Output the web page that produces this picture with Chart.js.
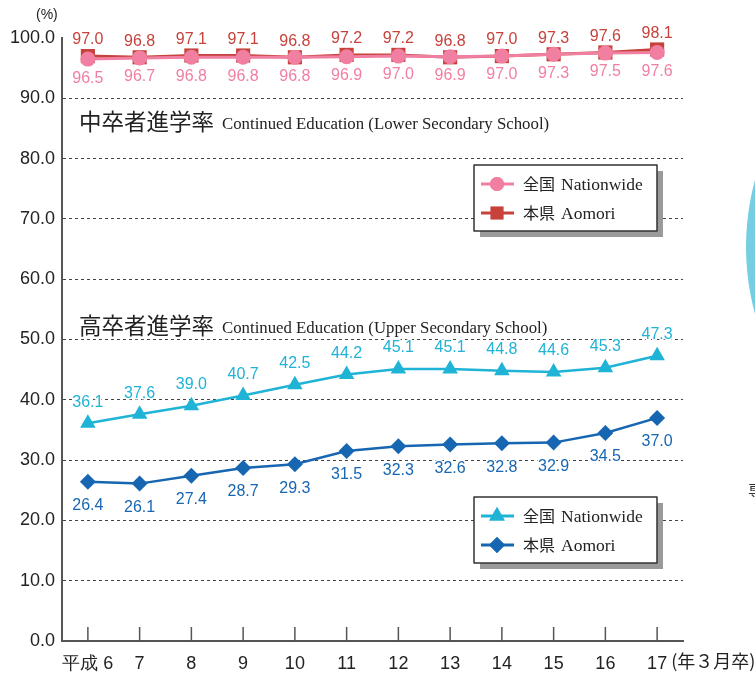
<!DOCTYPE html>
<html lang="ja">
<head>
<meta charset="UTF-8">
<title>進学率の推移</title>
<script src="https://cdn.jsdelivr.net/npm/chart.js"></script>
<style>
  body { margin: 0; background: #fff; }
  canvas { display: block; }
</style>
</head>
<body>
<canvas id="rateChart" width="755" height="675"></canvas>
<script>
// data
const years = ['平成 6', '7', '8', '9', '10', '11', '12', '13', '14', '15', '16', '17'];
const lowerNation = [96.5, 96.7, 96.8, 96.8, 96.8, 96.9, 97.0, 96.9, 97.0, 97.3, 97.5, 97.6];
const lowerAomori = [97.0, 96.8, 97.1, 97.1, 96.8, 97.2, 97.2, 96.8, 97.0, 97.3, 97.6, 98.1];
const upperNation = [36.1, 37.6, 39.0, 40.7, 42.5, 44.2, 45.1, 45.1, 44.8, 44.6, 45.3, 47.3];
const upperAomori = [26.4, 26.1, 27.4, 28.7, 29.3, 31.5, 32.3, 32.6, 32.8, 32.9, 34.5, 37.0];

const PINK = '#f07fa1', RED = '#c6423b', CYAN = '#1fb3d6', BLUE = '#1766b2';
const NUM_FONT = '"Liberation Sans", Arial, sans-serif';
const JP_FONT = '"Noto Sans CJK JP", sans-serif';
const SERIF = '"Liberation Serif", "DejaVu Serif", serif';

// value labels: [dataset index, color, offset from point]
const labelSpec = [
  [0, PINK, 19], [1, RED, -16], [2, CYAN, -21], [3, BLUE, 24]
];

const extras = {
  id: 'extras',
  afterDatasetsDraw(chart) {
    const ctx = chart.ctx;
    const x = chart.scales.x, y = chart.scales.y;
    ctx.save();

    // small ticks standing up from the x axis
    ctx.strokeStyle = '#555';
    ctx.lineWidth = 1.5;
    years.forEach((_, i) => {
      const px = x.getPixelForValue(i);
      ctx.beginPath();
      ctx.moveTo(px, y.bottom);
      ctx.lineTo(px, y.bottom - 14);
      ctx.stroke();
    });

    // value labels
    ctx.font = '16px ' + NUM_FONT;
    ctx.textAlign = 'center';
    ctx.textBaseline = 'middle';
    ctx.lineJoin = 'round';
    labelSpec.forEach(([di, color, off]) => {
      const ds = chart.data.datasets[di];
      chart.getDatasetMeta(di).data.forEach((pt, i) => {
        const txt = ds.data[i].toFixed(1);
        ctx.strokeStyle = '#fff';
        ctx.lineWidth = 3;
        ctx.strokeText(txt, pt.x, pt.y + off);
        ctx.fillStyle = color;
        ctx.fillText(txt, pt.x, pt.y + off);
      });
    });

    // section titles
    ctx.textAlign = 'left';
    ctx.textBaseline = 'alphabetic';
    const title = (jp, en, ty) => {
      ctx.fillStyle = '#222';
      ctx.font = '22.5px ' + JP_FONT;
      ctx.fillText(jp, 79, ty);
      const w = ctx.measureText(jp).width;
      ctx.font = '16.8px ' + SERIF;
      ctx.fillText(en, 79 + w + 8, ty - 1);
    };
    title('中卒者進学率', 'Continued Education (Lower Secondary School)', 130);
    title('高卒者進学率', 'Continued Education (Upper Secondary School)', 334);

    // legends
    const legend = (top, items) => {
      const lx = 474, w = 183, h = 66;
      ctx.fillStyle = '#9a9a9a';
      ctx.fillRect(lx + 6, top + 6, w, h);
      ctx.fillStyle = '#fff';
      ctx.fillRect(lx, top, w, h);
      ctx.strokeStyle = '#333';
      ctx.lineWidth = 1.5;
      ctx.strokeRect(lx, top, w, h);
      items.forEach(([color, style, r, jp, en], k) => {
        const ry = top + 19 + k * 29;
        ctx.strokeStyle = color;
        ctx.lineWidth = 3;
        ctx.beginPath();
        ctx.moveTo(lx + 7, ry);
        ctx.lineTo(lx + 40, ry);
        ctx.stroke();
        ctx.fillStyle = color;
        Chart.helpers.drawPoint(ctx, { pointStyle: style, radius: r, borderWidth: 0 }, lx + 23, ry);
        ctx.fill();
        ctx.fillStyle = '#222';
        ctx.textBaseline = 'middle';
        ctx.font = '16px ' + JP_FONT;
        ctx.fillText(jp, lx + 49, ry);
        ctx.font = '17.5px ' + SERIF;
        ctx.fillText(en, lx + 87, ry + 1);
      });
    };
    legend(165, [[PINK, 'circle', 7, '全国', 'Nationwide'], [RED, 'rect', 9, '本県', 'Aomori']]);
    legend(497, [[CYAN, 'triangle', 9, '全国', 'Nationwide'], [BLUE, 'rectRot', 8, '本県', 'Aomori']]);

    // unit marks
    ctx.fillStyle = '#222';
    ctx.textBaseline = 'middle';
    ctx.font = '14px ' + NUM_FONT;
    ctx.fillText('(%)', 36, 15);
    ctx.font = '18px ' + JP_FONT;
    ctx.fillText('(年３月卒)', x.getPixelForValue(years.length - 1) + 14, 661);

    // edge of the neighbouring figure
    ctx.fillStyle = '#74cfe2';
    ctx.beginPath();
    ctx.arc(1000, 247, 254, 0, Math.PI * 2);
    ctx.fill();
    ctx.fillStyle = '#333';
    ctx.font = '16px ' + JP_FONT;
    ctx.fillText('専', 748, 490);

    ctx.restore();
  }
};

new Chart(document.getElementById('rateChart'), {
  type: 'line',
  data: {
    labels: years,
    datasets: [
      { label: '全国 Nationwide', data: lowerNation, borderColor: PINK, backgroundColor: PINK,
        borderWidth: 3, pointStyle: 'circle', pointRadius: 7.5, pointBorderWidth: 0 },
      { label: '本県 Aomori', data: lowerAomori, borderColor: RED, backgroundColor: RED,
        borderWidth: 3, pointStyle: 'rect', pointRadius: 10, pointBorderWidth: 0 },
      { label: '全国 Nationwide', data: upperNation, borderColor: CYAN, backgroundColor: CYAN,
        borderWidth: 2.5, pointStyle: 'triangle', pointRadius: 9, pointBorderWidth: 0 },
      { label: '本県 Aomori', data: upperAomori, borderColor: BLUE, backgroundColor: BLUE,
        borderWidth: 2.5, pointStyle: 'rectRot', pointRadius: 8, pointBorderWidth: 0 }
    ]
  },
  options: {
    responsive: false,
    animation: false,
    layout: { padding: { top: 38, right: 72, left: 0, bottom: 0 } },
    plugins: { legend: { display: false }, tooltip: { enabled: false } },
    scales: {
      x: {
        offset: true,
        grid: { display: false },
        border: { display: true, color: '#555', width: 2 },
        ticks: { color: '#222', font: { size: 18, family: NUM_FONT }, padding: 4, maxRotation: 0, autoSkip: false },
        afterFit: s => { s.height = 34; }
      },
      y: {
        min: 0, max: 100,
        ticks: { stepSize: 10, color: '#222', font: { size: 18, family: NUM_FONT }, padding: 7,
                 callback: v => v.toFixed(1) },
        grid: {
          drawTicks: false,
          color: c => (c.tick.value === 0 || c.tick.value === 100) ? 'rgba(0,0,0,0)' : '#444',
          lineWidth: 1
        },
        border: { display: true, color: '#555', width: 2, dash: [3, 3] },
        afterFit: s => { s.width = 62; }
      }
    }
  },
  plugins: [extras]
});
</script>
</body>
</html>
